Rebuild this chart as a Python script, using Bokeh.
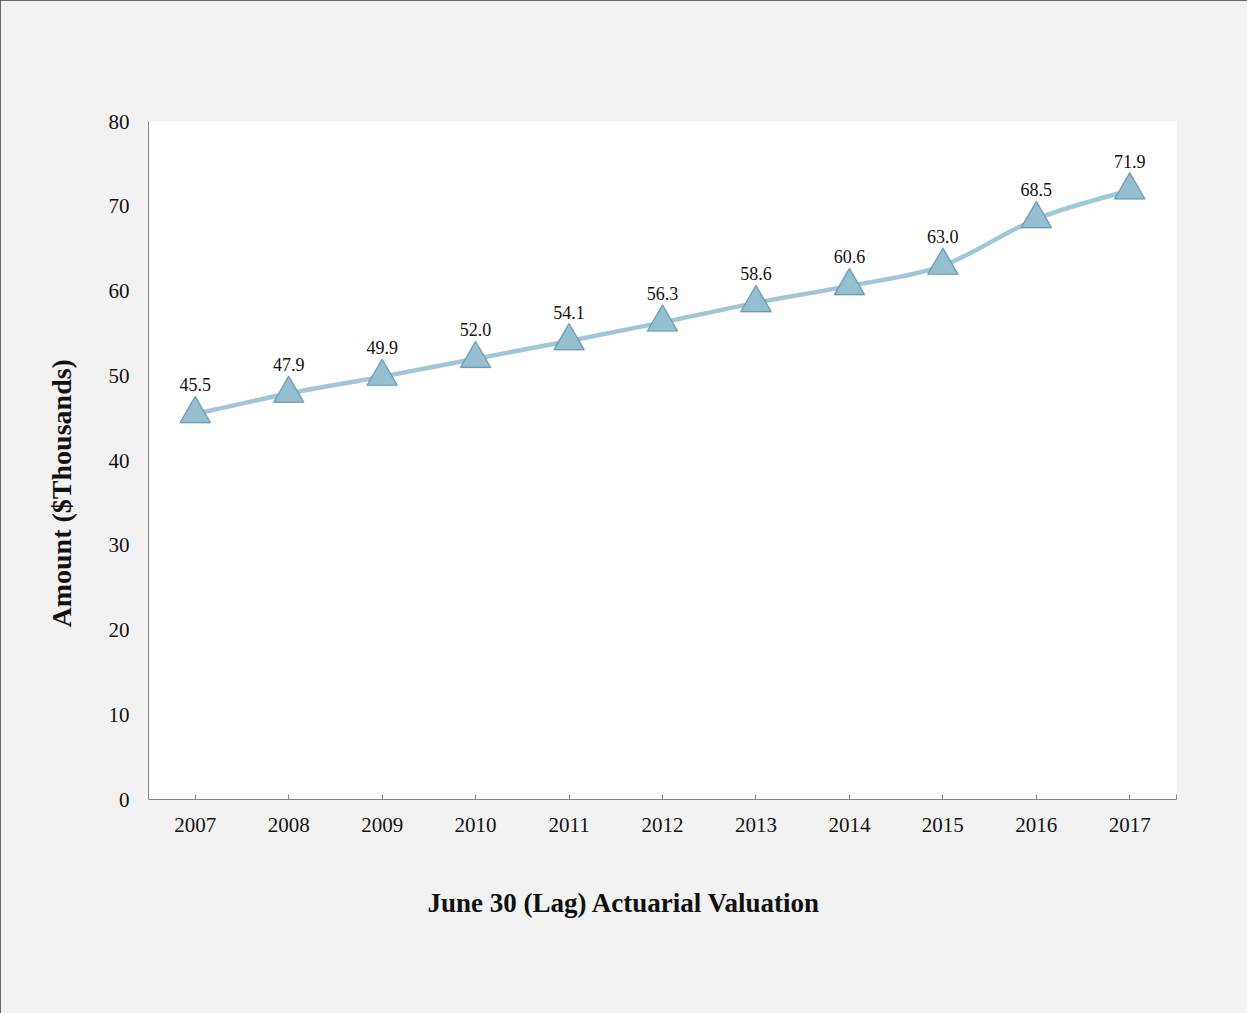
from bokeh.plotting import figure
from bokeh.models import FixedTicker, InlineStyleSheet, ColumnDataSource, Range1d, Title
from bokeh.core.properties import value
from bokeh.embed import file_html
from bokeh.resources import INLINE

# Valuation years and amounts ($ thousands)
years = [2007, 2008, 2009, 2010, 2011, 2012, 2013, 2014, 2015, 2016, 2017]
amounts = [45.5, 47.9, 49.9, 52.0, 54.1, 56.3, 58.6, 60.6, 63.0, 68.5, 71.9]
labels = ["45.5", "47.9", "49.9", "52.0", "54.1", "56.3", "58.6", "60.6", "63.0", "68.5", "71.9"]
y_ticks = [0, 10, 20, 30, 40, 50, 60, 70, 80]

SERIF = "Liberation Serif"
BG = "#f2f2f2"
AXIS = "#868686"
LINE = "#9fc7d7"
INK = "#111111"

x_lo, x_hi = 2006.5, 2017.5
y_lo, y_hi = 0, 80

p = figure(
    width=1247, height=1013,
    output_backend="svg", toolbar_location=None,
    x_range=Range1d(x_lo, x_hi), y_range=Range1d(y_lo, y_hi),
    min_border_left=148, min_border_right=71,
    min_border_top=121, min_border_bottom=214,
)
p.background_fill_color = "white"
p.border_fill_color = BG
p.outline_line_color = None
p.grid.visible = False
p.stylesheets = [InlineStyleSheet(css=":host { outline: 2px solid #3c3c3c; outline-offset: -2px; }")]

# Smoothed connecting line: cubic Bezier segments (Catmull-Rom style tangents)
n = len(years)
x0, y0, x1, y1, cx0, cy0, cx1, cy1 = [], [], [], [], [], [], [], []
for i in range(n - 1):
    xp, yp = years[max(i - 1, 0)], amounts[max(i - 1, 0)]
    xa, ya = years[i], amounts[i]
    xb, yb = years[i + 1], amounts[i + 1]
    xn, yn = years[min(i + 2, n - 1)], amounts[min(i + 2, n - 1)]
    x0.append(xa); y0.append(ya); x1.append(xb); y1.append(yb)
    cx0.append(xa + (xb - xp) / 6); cy0.append(ya + (yb - yp) / 6)
    cx1.append(xb - (xn - xa) / 6); cy1.append(yb - (yn - ya) / 6)
p.bezier(x0=x0, y0=y0, x1=x1, y1=y1, cx0=cx0, cy0=cy0, cx1=cx1, cy1=cy1,
         line_color=LINE, line_width=4.5)

src = ColumnDataSource(dict(x=years, y=amounts, t=labels))

# Soft shadow under the markers, then the triangle markers
p.scatter("x", "y", source=src, marker="triangle", size=34,
          fill_color="#7f7f7f", fill_alpha=0.16, line_color=None)
p.scatter("x", "y", source=src, marker="triangle", size=30,
          fill_color="#93bfd1", line_color="#6d9cb0", line_width=1.2)

p.text("x", "y", text="t", source=src, y_offset=-29,
       text_align="center", text_baseline="middle",
       text_font=value(SERIF), text_font_size="18px", text_color=INK)

# Axes
xa_ = p.xaxis[0]
xa_.ticker = FixedTicker(ticks=years + [x_hi])
xa_.major_label_overrides = {x_hi: ""}
xa_.axis_line_color = AXIS
xa_.major_tick_line_color = AXIS
xa_.major_tick_in = 5
xa_.major_tick_out = 0
xa_.minor_tick_line_color = None
xa_.major_label_standoff = 18
xa_.major_label_text_font = SERIF
xa_.major_label_text_font_size = "21px"
xa_.major_label_text_color = INK

ya_ = p.yaxis[0]
ya_.ticker = FixedTicker(ticks=y_ticks)
ya_.axis_line_color = AXIS
ya_.major_tick_line_color = None
ya_.minor_tick_line_color = None
ya_.major_label_standoff = 13
ya_.major_label_text_font = SERIF
ya_.major_label_text_font_size = "21px"
ya_.major_label_text_color = INK

# Axis titles as side panels so they can sit outside the frame
p.add_layout(Title(
    text="June 30 (Lag) Actuarial Valuation", align="left", offset=279, standoff=103,
    text_font=SERIF, text_font_style="bold", text_font_size="27px", text_color=INK,
), "below")
p.add_layout(Title(
    text="Amount ($Thousands)", align="left", offset=172, standoff=57,
    text_font=SERIF, text_font_style="bold", text_font_size="28px", text_color=INK,
), "left")

open("out.html", "w").write(file_html(p, INLINE))
